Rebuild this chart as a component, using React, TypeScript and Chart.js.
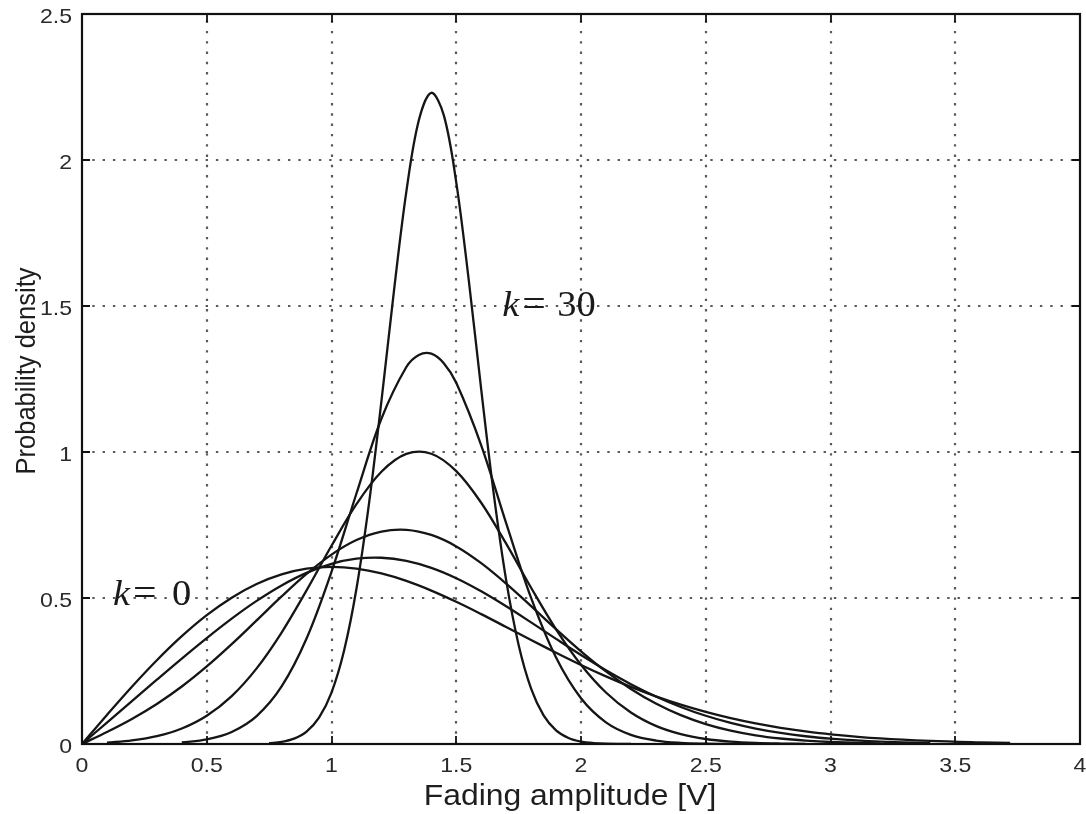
import React, { useEffect, useRef } from "react";
import { Chart, registerables } from "chart.js";

Chart.register(...registerables);

// ---- data ----
const xTickValues = [0, 0.5, 1, 1.5, 2, 2.5, 3, 3.5, 4];
const yTickValues = [0, 0.5, 1, 1.5, 2, 2.5];
const xTickLabels = ["0", "0.5", "1", "1.5", "2", "2.5", "3", "3.5", "4"];
const yTickLabels = ["0", "0.5", "1", "1.5", "2", "2.5"];

const amplitudeWide = [0, 0.1, 0.2, 0.3, 0.4, 0.5, 0.6, 0.7, 0.8, 0.9, 1.0, 1.1, 1.2, 1.3, 1.4, 1.5, 1.6, 1.7, 1.8, 1.9, 2.0, 2.1, 2.2, 2.3, 2.4, 2.5, 2.6, 2.7, 2.8, 2.9, 3.0, 3.2, 3.4, 3.6, 3.72];
const densityK0 = [0, 0.0995, 0.196, 0.2868, 0.3692, 0.4412, 0.5012, 0.5479, 0.5809, 0.6003, 0.6065, 0.6007, 0.5841, 0.5585, 0.5254, 0.487, 0.4448, 0.4007, 0.3562, 0.3126, 0.2707, 0.2316, 0.1956, 0.1633, 0.1347, 0.1098, 0.0884, 0.0704, 0.0555, 0.0432, 0.0333, 0.0191, 0.0105, 0.0055, 0.0035];
const densityK1 = [0, 0.0736, 0.1471, 0.2203, 0.2926, 0.3627, 0.4293, 0.4901, 0.5431, 0.5861, 0.617, 0.6345, 0.6379, 0.6271, 0.6032, 0.5678, 0.523, 0.4716, 0.4164, 0.3599, 0.3046, 0.2525, 0.2049, 0.1629, 0.1268, 0.0967, 0.0723, 0.0528, 0.0379, 0.0266, 0.0183, 0.0082, 0.0033];
const densityK2 = [0, 0.0412, 0.0859, 0.1372, 0.1968, 0.2656, 0.342, 0.4234, 0.5054, 0.5824, 0.6486, 0.6984, 0.7276, 0.7335, 0.7159, 0.6767, 0.6194, 0.5494, 0.4722, 0.3933, 0.3175, 0.2486, 0.1885, 0.1387, 0.0989, 0.0684, 0.0459, 0.0298, 0.0188, 0.0115, 0.0068, 0.0022];

const amplitudeK5 = [0.1, 0.2, 0.3, 0.4, 0.5, 0.6, 0.7, 0.8, 0.9, 1.0, 1.1, 1.2, 1.3, 1.4, 1.5, 1.6, 1.7, 1.8, 1.9, 2.0, 2.1, 2.2, 2.3, 2.4, 2.5, 2.6, 2.7, 2.8, 2.9];
const densityK5 = [0.0045, 0.0122, 0.0267, 0.0529, 0.0967, 0.164, 0.2589, 0.3816, 0.5259, 0.6788, 0.8213, 0.9323, 0.9934, 0.9941, 0.9345, 0.8262, 0.686, 0.5352, 0.3929, 0.2715, 0.1763, 0.1078, 0.062, 0.0337, 0.0171, 0.0082, 0.0037, 0.0016, 0.0006];

const amplitudeK10 = [0.4, 0.5, 0.6, 0.7, 0.8, 0.9, 1.0, 1.1, 1.2, 1.3, 1.35, 1.4, 1.45, 1.5, 1.6, 1.7, 1.8, 1.9, 2.0, 2.1, 2.2, 2.3, 2.4, 2.5, 2.6, 2.7];
const densityK10 = [0.0052, 0.0157, 0.0412, 0.0956, 0.1971, 0.3612, 0.5896, 0.8579, 1.1139, 1.2911, 1.3325, 1.3369, 1.3042, 1.2369, 1.023, 0.7565, 0.5003, 0.296, 0.1567, 0.0742, 0.0314, 0.0119, 0.004, 0.0012, 0.0003, 0.0001];

const amplitudeK30 = [0.75, 0.8, 0.85, 0.9, 0.95, 1.0, 1.05, 1.1, 1.15, 1.2, 1.25, 1.3, 1.35, 1.4, 1.45, 1.5, 1.55, 1.6, 1.65, 1.7, 1.75, 1.8, 1.85, 1.9, 1.95, 2.0, 2.05, 2.1, 2.2];
const densityK30 = [0.0028, 0.0075, 0.0186, 0.0426, 0.0901, 0.1762, 0.3184, 0.5319, 0.8216, 1.1732, 1.5492, 1.8915, 2.1359, 2.2302, 2.1537, 1.9236, 1.5892, 1.2143, 0.8583, 0.5611, 0.3393, 0.1898, 0.0983, 0.047, 0.0208, 0.0085, 0.0032, 0.0011, 0.0001];

const seriesNames = ["k = 0", "k = 1", "k = 2", "k = 5", "k = 10", "k = 30"];

const xAxisTitle = "Fading amplitude [V]";
const yAxisTitle = "Probability density";

// annotation anchors (data coordinates)
const labelK30 = { x: 1.684, y: 1.467, num: "30" };
const labelK0 = { x: 0.124, y: 0.475, num: "0" };

const SX = 1.1; // horizontal stretch of reference typography

function toPoints(xs: number[], ys: number[]) {
  return ys.map((y, i) => ({ x: xs[i], y }));
}

function drawText(ctx: CanvasRenderingContext2D, text: string, x: number, y: number, font: string, align: CanvasTextAlign, baseline: CanvasTextBaseline, color: string) {
  ctx.save();
  ctx.translate(x, y);
  ctx.scale(SX, 1);
  ctx.font = font;
  ctx.textAlign = align;
  ctx.textBaseline = baseline;
  ctx.fillStyle = color;
  ctx.fillText(text, 0, 0);
  ctx.restore();
}

const framePlugin = {
  id: "matlabFrame",
  beforeDatasetsDraw(chart: any) {
    const { ctx, chartArea, scales } = chart;
    const { left, right, top, bottom } = chartArea;
    ctx.save();
    ctx.strokeStyle = "#5a5a5a";
    ctx.lineWidth = 2.2;
    ctx.setLineDash([2.4, 7.9]);
    ctx.lineCap = "butt";
    xTickValues.forEach((v) => {
      if (v <= 0 || v >= 4) return;
      const px = Math.round(scales.x.getPixelForValue(v));
      ctx.beginPath();
      ctx.moveTo(px, bottom);
      ctx.lineTo(px, top);
      ctx.stroke();
    });
    yTickValues.forEach((v) => {
      if (v <= 0 || v >= 2.5) return;
      const py = Math.round(scales.y.getPixelForValue(v));
      ctx.beginPath();
      ctx.moveTo(left, py);
      ctx.lineTo(right, py);
      ctx.stroke();
    });
    ctx.restore();
  },
  afterDatasetsDraw(chart: any) {
    const { ctx, chartArea, scales } = chart;
    const { left, right, top, bottom } = chartArea;
    ctx.save();
    // box
    ctx.strokeStyle = "#111";
    ctx.lineWidth = 2.2;
    ctx.setLineDash([]);
    ctx.strokeRect(left, top, right - left, bottom - top);
    // inward ticks
    ctx.lineWidth = 1.8;
    const tl = 8;
    xTickValues.forEach((v) => {
      const px = Math.round(scales.x.getPixelForValue(v));
      ctx.beginPath();
      ctx.moveTo(px, bottom);
      ctx.lineTo(px, bottom - tl);
      ctx.moveTo(px, top);
      ctx.lineTo(px, top + tl);
      ctx.stroke();
    });
    yTickValues.forEach((v) => {
      const py = Math.round(scales.y.getPixelForValue(v));
      ctx.beginPath();
      ctx.moveTo(left, py);
      ctx.lineTo(left + tl, py);
      ctx.moveTo(right, py);
      ctx.lineTo(right - tl, py);
      ctx.stroke();
    });
    // tick labels
    const tickFont = "21px 'Liberation Sans', Arial, sans-serif";
    xTickValues.forEach((v, i) => {
      const px = scales.x.getPixelForValue(v);
      drawText(ctx, xTickLabels[i], px, bottom + 12, tickFont, "center", "top", "#2a2a2a");
    });
    yTickValues.forEach((v, i) => {
      const py = scales.y.getPixelForValue(v);
      drawText(ctx, yTickLabels[i], left - 10, py + 3, tickFont, "right", "middle", "#2a2a2a");
    });
    // axis titles
    drawText(ctx, xAxisTitle, 570, 805, "29px 'Liberation Sans', Arial, sans-serif", "center", "alphabetic", "#1e1e1e");
    ctx.save();
    ctx.translate(27, 371);
    ctx.rotate(-Math.PI / 2);
    ctx.scale(1, SX);
    ctx.font = "25.5px 'Liberation Sans', Arial, sans-serif";
    ctx.textAlign = "center";
    ctx.textBaseline = "middle";
    ctx.fillStyle = "#1e1e1e";
    ctx.fillText(yAxisTitle, 0, 0);
    ctx.restore();
    // annotations
    const drawK = (lab: { x: number; y: number; num: string }) => {
      const ax = scales.x.getPixelForValue(lab.x);
      const ay = scales.y.getPixelForValue(lab.y);
      const serif = "'Liberation Serif', 'Times New Roman', serif";
      drawText(ctx, "k", ax, ay, "italic 35px " + serif, "left", "alphabetic", "#1a1a1a");
      drawText(ctx, "=", ax + 20, ay, "38px " + serif, "left", "alphabetic", "#1a1a1a");
      drawText(ctx, lab.num, ax + (lab.num.length > 1 ? 55 : 59), ay, "35px " + serif, "left", "alphabetic", "#1a1a1a");
    };
    drawK(labelK30);
    drawK(labelK0);
    ctx.restore();
  },
};

export default function App() {
  const canvasRef = useRef<HTMLCanvasElement | null>(null);

  useEffect(() => {
    const canvas = canvasRef.current;
    if (!canvas) return;
    const lineStyle = {
      borderColor: "#151515",
      borderWidth: 2.3,
      pointRadius: 0,
      fill: false,
      tension: 0.35,
    };
    const chart = new Chart(canvas, {
      type: "line",
      data: {
        datasets: [
          { label: seriesNames[0], data: toPoints(amplitudeWide, densityK0), ...lineStyle },
          { label: seriesNames[1], data: toPoints(amplitudeWide, densityK1), ...lineStyle },
          { label: seriesNames[2], data: toPoints(amplitudeWide, densityK2), ...lineStyle },
          { label: seriesNames[3], data: toPoints(amplitudeK5, densityK5), ...lineStyle },
          { label: seriesNames[4], data: toPoints(amplitudeK10, densityK10), ...lineStyle },
          { label: seriesNames[5], data: toPoints(amplitudeK30, densityK30), ...lineStyle },
        ],
      },
      options: {
        responsive: false,
        animation: false,
        devicePixelRatio: 1,
        layout: { padding: { top: 14, right: 6, left: 0, bottom: 0 } },
        plugins: { legend: { display: false }, tooltip: { enabled: false } },
        scales: {
          x: {
            type: "linear",
            min: 0,
            max: 4,
            ticks: { display: false, stepSize: 0.5 },
            grid: { display: false },
            border: { display: false },
            afterFit: (s: any) => {
              s.height = 70;
            },
          },
          y: {
            type: "linear",
            min: 0,
            max: 2.5,
            ticks: { display: false, stepSize: 0.5 },
            grid: { display: false },
            border: { display: false },
            afterFit: (s: any) => {
              s.width = 82;
            },
          },
        },
      },
      plugins: [framePlugin],
    });
    return () => chart.destroy();
  }, []);

  return (
    <div style={{ position: "fixed", left: 0, top: 0, width: 1086, height: 814, background: "#fff" }}>
      <canvas ref={canvasRef} width={1086} height={814} style={{ display: "block" }} />
    </div>
  );
}
